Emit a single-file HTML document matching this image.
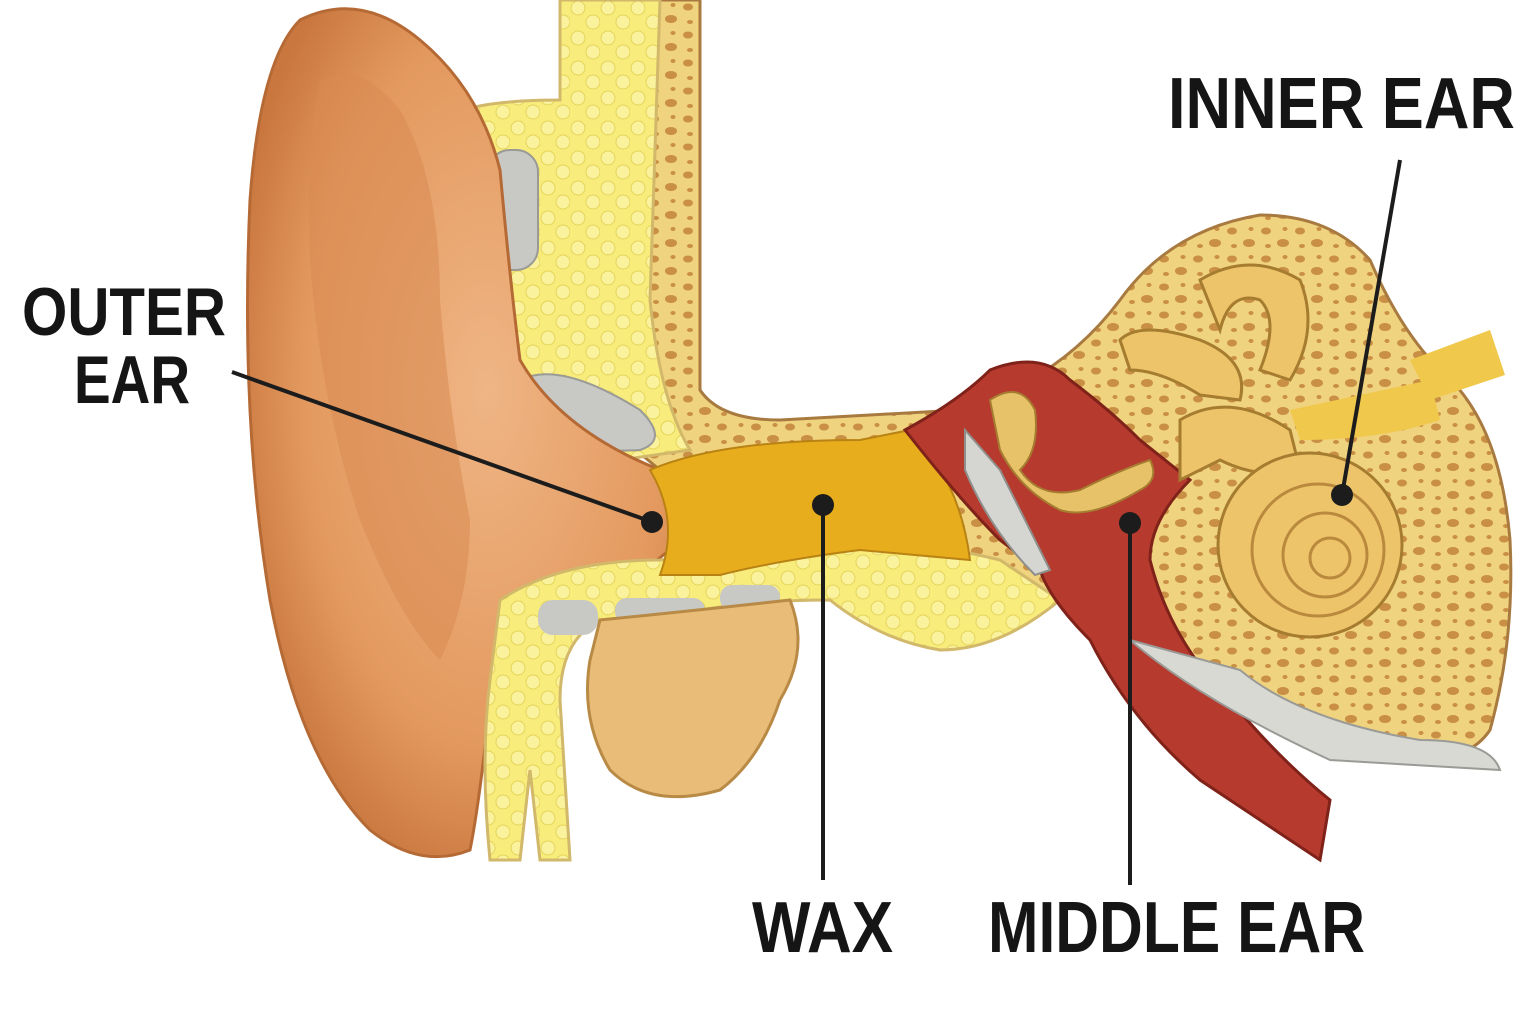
<!DOCTYPE html>
<html><head><meta charset="utf-8"><style>
html,body{margin:0;padding:0;background:#fff;}
svg{display:block;}
text{font-family:"Liberation Sans",sans-serif;font-weight:bold;fill:#151515;}
</style></head><body>
<svg width="1536" height="1024" viewBox="0 0 1536 1024" xmlns="http://www.w3.org/2000/svg">
<defs>
<radialGradient id="pin" cx="0.55" cy="0.45" r="0.6">
<stop offset="0" stop-color="#efb585"/><stop offset="0.7" stop-color="#e3995e"/><stop offset="1" stop-color="#c9773f"/></radialGradient>
<pattern id="bone" width="34" height="28" patternUnits="userSpaceOnUse">
<rect width="34" height="28" fill="#f0d37e"/>
<ellipse cx="8" cy="7" rx="5" ry="3.5" fill="#c98f45"/>
<ellipse cx="25" cy="19" rx="6" ry="4" fill="#c98f45"/>
<ellipse cx="27" cy="5" rx="2.5" ry="2" fill="#c98f45"/>
<ellipse cx="10" cy="22" rx="3" ry="2" fill="#c98f45"/>
</pattern>
<pattern id="fat" width="30" height="30" patternUnits="userSpaceOnUse">
<rect width="30" height="30" fill="#f7ec7c"/>
<circle cx="8" cy="8" r="7" fill="#faf29d" stroke="#e6d45a" stroke-width="1"/>
<circle cx="23" cy="22" r="7" fill="#faf29d" stroke="#e6d45a" stroke-width="1"/>
</pattern>
</defs>

<!-- bone mass vertical + horizontal -->
<path d="M570 0 L700 0 L700 390 Q720 420 780 420 L960 410 Q1060 380 1120 300 Q1170 230 1260 215 Q1330 215 1370 260 Q1400 330 1440 370 Q1500 420 1510 540 Q1515 640 1490 730 Q1470 760 1420 760 L1250 720 L1130 640 L1060 600 Q1000 640 940 650 Q890 620 840 580 L700 560 L660 470 L600 420 Z" fill="url(#bone)" stroke="#a87a40" stroke-width="3"/>

<!-- yellow fat top -->
<path d="M440 120 Q470 100 560 100 L560 0 L660 0 L650 300 Q660 400 690 450 L620 460 Q540 440 500 370 Q470 300 460 230 Z" fill="url(#fat)" stroke="#d2b86a" stroke-width="3"/>
<rect x="488" y="150" width="50" height="120" rx="22" fill="#c8c8c4" stroke="#9a9a96" stroke-width="2"/>
<path d="M520 380 Q560 360 640 410 Q670 440 640 450 Q560 455 520 420 Z" fill="#c8c8c4" stroke="#9a9a96" stroke-width="2"/>

<!-- pinna -->
<path d="M300 20 Q360 -10 420 40 Q480 90 500 170 Q510 280 520 360 Q560 430 660 470 Q690 500 680 540 Q640 580 580 600 Q500 640 490 700 Q480 800 470 850 Q420 870 370 830 Q300 760 270 600 Q240 420 250 200 Q260 60 300 20 Z" fill="url(#pin)" stroke="#b56a35" stroke-width="3"/>
<path d="M320 80 Q360 60 400 110 Q440 180 440 300 Q450 420 470 520 Q470 600 440 660 Q400 620 360 520 Q320 400 310 260 Q305 140 320 80 Z" fill="#d88a52" opacity="0.55"/>

<!-- lower canal wall / fat -->
<path d="M500 600 Q560 560 660 560 L840 540 Q920 540 1000 560 L1060 600 Q1000 650 940 650 Q880 640 830 600 Q760 600 700 610 L600 620 Q560 640 560 700 L570 860 L540 860 L530 770 L520 860 L490 860 Q480 760 490 680 Z" fill="url(#fat)" stroke="#d2b86a" stroke-width="3"/>
<rect x="538" y="600" width="60" height="35" rx="15" fill="#c8c8c4"/>
<rect x="615" y="598" width="90" height="26" rx="12" fill="#c8c8c4"/>
<rect x="720" y="585" width="60" height="26" rx="12" fill="#c8c8c4"/>

<!-- lower lobe blob -->
<path d="M600 620 Q700 610 790 600 Q810 650 780 700 Q760 760 720 790 Q650 810 610 770 Q580 720 590 660 Z" fill="#e9bd78" stroke="#b98a45" stroke-width="3"/>

<!-- canal wax -->
<path d="M650 470 Q720 440 860 440 L910 430 Q960 480 970 560 L860 550 Q780 560 720 575 L660 575 Q680 520 650 470 Z" fill="#e8ad1c" stroke="#b88214" stroke-width="2"/>

<!-- middle ear red -->
<path d="M905 430 Q960 400 990 370 Q1040 350 1070 380 Q1110 410 1140 440 L1190 480 Q1150 520 1150 560 Q1170 640 1230 700 Q1280 760 1330 800 L1320 860 Q1260 820 1200 780 Q1130 720 1090 640 Q1050 600 1040 570 L1000 540 Q960 500 905 430 Z" fill="#b63a2e" stroke="#7f2219" stroke-width="3"/>
<path d="M1130 640 Q1200 700 1330 760 L1500 770 Q1490 740 1420 740 Q1300 720 1240 670 Z" fill="#d9d9d4" stroke="#9a9a96" stroke-width="2"/>
<!-- eardrum -->
<path d="M965 430 L1000 470 L1050 570 L1035 575 Q990 530 965 470 Z" fill="#d5d5d2" stroke="#8f8f8b" stroke-width="2"/>
<!-- ossicles -->
<path d="M990 400 Q1020 380 1035 410 Q1040 450 1020 470 Q1040 500 1080 490 Q1120 470 1150 460 Q1160 480 1140 490 Q1090 520 1060 510 Q1020 490 1000 450 Z" fill="#e8c268" stroke="#a57c30" stroke-width="2"/>

<!-- inner ear semicircular canals -->
<path d="M1200 280 Q1250 250 1300 280 Q1320 330 1290 380 L1260 370 Q1280 320 1260 300 Q1230 290 1220 330 Z" fill="#eec46a" stroke="#a57c30" stroke-width="3"/>
<path d="M1120 340 Q1140 320 1200 340 Q1250 360 1240 400 L1200 395 Q1160 370 1130 370 Z" fill="#eec46a" stroke="#a57c30" stroke-width="3"/>
<path d="M1180 420 Q1230 390 1290 430 L1300 470 Q1260 480 1220 460 L1180 480 Z" fill="#eec46a" stroke="#a57c30" stroke-width="3"/>
<path d="M1290 410 L1430 380 L1440 420 Q1380 440 1300 440 Z" fill="#f0c84c"/>
<path d="M1410 360 L1490 330 L1505 375 L1430 400 Z" fill="#f0c84c"/>

<!-- cochlea -->
<circle cx="1310" cy="545" r="92" fill="#eec46a" stroke="#a57c30" stroke-width="3"/>
<circle cx="1318" cy="550" r="66" fill="none" stroke="#b98a3e" stroke-width="3"/>
<circle cx="1325" cy="555" r="42" fill="none" stroke="#b98a3e" stroke-width="3"/>
<circle cx="1330" cy="558" r="20" fill="none" stroke="#b98a3e" stroke-width="3"/>

<!-- leader lines -->
<g stroke="#1c1c1c" stroke-width="4" fill="none">
<line x1="232" y1="372" x2="652" y2="522"/>
<line x1="823" y1="505" x2="823" y2="880"/>
<line x1="1130" y1="523" x2="1130" y2="885"/>
<line x1="1400" y1="160" x2="1342" y2="495"/>
</g>
<g fill="#1c1c1c">
<circle cx="652" cy="522" r="11"/><circle cx="823" cy="505" r="11"/>
<circle cx="1130" cy="523" r="11"/><circle cx="1342" cy="495" r="11"/>
</g>

<text x="22" y="335" font-size="68" textLength="204" lengthAdjust="spacingAndGlyphs">OUTER</text>
<text x="74" y="403" font-size="68" textLength="116" lengthAdjust="spacingAndGlyphs">EAR</text>
<text x="1168" y="128" font-size="72" textLength="347" lengthAdjust="spacingAndGlyphs">INNER EAR</text>
<text x="752" y="952" font-size="72" textLength="141" lengthAdjust="spacingAndGlyphs">WAX</text>
<text x="988" y="952" font-size="72" textLength="377" lengthAdjust="spacingAndGlyphs">MIDDLE EAR</text>
</svg>
</body></html>
